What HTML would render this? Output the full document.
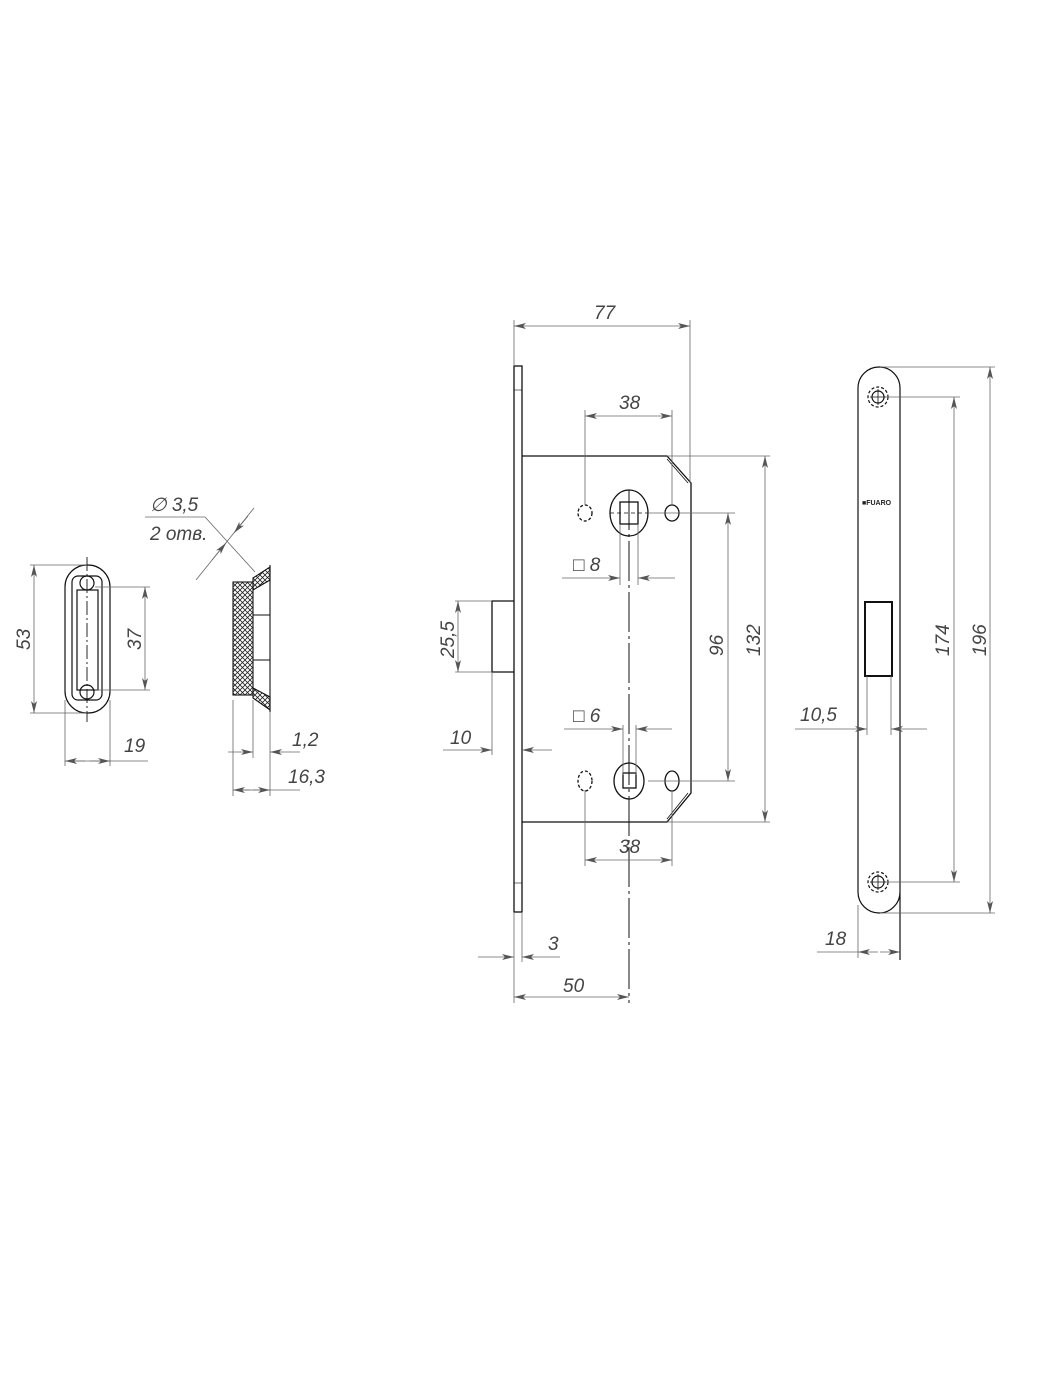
<!DOCTYPE html>
<html><head><meta charset="utf-8"><style>
html,body{margin:0;padding:0;background:#fff}
svg{display:block}
text{font-family:"Liberation Sans",sans-serif;font-style:italic;font-size:19px;fill:#444}
</style></head><body>
<svg width="1050" height="1400" viewBox="0 0 1050 1400" xmlns="http://www.w3.org/2000/svg">
<defs>
<marker id="a" viewBox="0 0 12 6" refX="12" refY="3" markerWidth="12" markerHeight="6" orient="auto-start-reverse" markerUnits="userSpaceOnUse"><path d="M0,0 L12,3 L0,6 L3,3z" fill="#555"/></marker>
<pattern id="h" width="5" height="5" patternUnits="userSpaceOnUse"><path d="M0,0L5,5M5,0L0,5" stroke="#222" stroke-width="0.8"/></pattern>
</defs>
<g fill="none" stroke="#111" stroke-width="1.2">
<!-- LEFT STRIKE -->
<rect x="65" y="565" width="45" height="148" rx="22"/>
<rect x="72" y="576" width="30" height="124" rx="6"/>
<rect x="77" y="590" width="21" height="100"/>
<circle cx="87" cy="583" r="7"/><circle cx="87" cy="692" r="7"/>
<line x1="87" y1="557" x2="87" y2="722" stroke-dasharray="14,3,2,3" stroke-width="0.9"/>
</g>
<g stroke="#666" stroke-width="0.8" fill="none">
<line x1="30" y1="565" x2="87" y2="565"/><line x1="30" y1="713" x2="87" y2="713"/>
<line x1="34" y1="565" x2="34" y2="713" marker-start="url(#a)" marker-end="url(#a)"/>
<line x1="95" y1="587" x2="150" y2="587"/><line x1="95" y1="690" x2="150" y2="690"/>
<line x1="145" y1="587" x2="145" y2="690" marker-start="url(#a)" marker-end="url(#a)"/>
<line x1="65" y1="700" x2="65" y2="766"/><line x1="110" y1="700" x2="110" y2="766"/>
<line x1="65" y1="761" x2="148" y2="761"/>
<line x1="85" y1="761" x2="65" y2="761" marker-end="url(#a)"/><line x1="90" y1="761" x2="110" y2="761" marker-end="url(#a)"/>
</g>
<text x="0" y="0" transform="translate(30,650) rotate(-90)">53</text>
<text x="0" y="0" transform="translate(141,650) rotate(-90)">37</text>
<text x="124" y="752">19</text>
<!-- SIDE SECTION -->
<g stroke="#111" stroke-width="1.1">
<rect x="233" y="582" width="20" height="113" fill="url(#h)"/>
<path d="M253,578 L270,567 L270,580 L253,590Z" fill="url(#h)"/>
<path d="M253,698 L270,710 L270,697 L253,688Z" fill="url(#h)"/>
<line x1="270" y1="565" x2="270" y2="712" fill="none"/>
<line x1="253" y1="615" x2="270" y2="615"/><line x1="253" y1="660" x2="270" y2="660"/>
<line x1="233" y1="582" x2="253" y2="582"/>
</g>
<g stroke="#666" stroke-width="0.8" fill="none">
<line x1="233" y1="700" x2="233" y2="796"/><line x1="253" y1="700" x2="253" y2="758"/><line x1="270" y1="712" x2="270" y2="796"/>
<line x1="228" y1="752" x2="253" y2="752" marker-end="url(#a)"/><line x1="300" y1="752" x2="270" y2="752" marker-end="url(#a)"/>
<line x1="233" y1="790" x2="300" y2="790"/>
<line x1="250" y1="790" x2="233" y2="790" marker-end="url(#a)"/><line x1="253" y1="790" x2="270" y2="790" marker-end="url(#a)"/>
<line x1="145" y1="517" x2="205" y2="517"/><line x1="205" y1="517" x2="255" y2="572"/>
<line x1="196" y1="580" x2="254" y2="508"/>
<line x1="212" y1="560" x2="226" y2="543" marker-end="url(#a)"/>
<line x1="248" y1="516" x2="234" y2="533" marker-end="url(#a)"/>
</g>
<text x="150" y="511">∅ 3,5</text>
<text x="150" y="540">2 отв.</text>
<text x="292" y="746">1,2</text>
<text x="288" y="783">16,3</text>
<!-- MAIN LOCK -->
<g fill="none" stroke="#111" stroke-width="1.3">
<rect x="514" y="366" width="8" height="546"/>
<line x1="514" y1="390" x2="522" y2="390" stroke-width="0.6"/><line x1="514" y1="883" x2="522" y2="883" stroke-width="0.6"/>
<path d="M522,456 L667,456 L691,483 L691,793 L667,822 L522,822"/>
<path d="M667,459 L688,483 M667,819 L688,793" stroke-width="0.8"/>
<path d="M514,601 L492,601 L492,672 L514,672"/>
<ellipse cx="629" cy="513" rx="19" ry="23"/>
<rect x="620" y="502" width="18" height="22"/>
<ellipse cx="629" cy="781" rx="15" ry="18"/>
<rect x="623" y="773" width="13" height="15"/>
<ellipse cx="585" cy="513" rx="7" ry="8" stroke-dasharray="3,2"/>
<ellipse cx="672" cy="513" rx="7" ry="8"/>
<ellipse cx="585" cy="781" rx="7" ry="10" stroke-dasharray="3,2"/>
<ellipse cx="672" cy="781" rx="7" ry="10"/>
<line x1="629" y1="490" x2="629" y2="1003" stroke-dasharray="40,4,3,4" stroke-width="1"/>
<line x1="610" y1="513" x2="648" y2="513" stroke-dasharray="4,3" stroke-width="0.8"/>
</g>
<g stroke="#666" stroke-width="0.8" fill="none">
<line x1="514" y1="320" x2="514" y2="366"/><line x1="690" y1="320" x2="690" y2="483"/>
<line x1="514" y1="326" x2="690" y2="326" marker-start="url(#a)" marker-end="url(#a)"/>
<line x1="585" y1="410" x2="585" y2="505"/><line x1="672" y1="410" x2="672" y2="505"/>
<line x1="585" y1="416" x2="672" y2="416" marker-start="url(#a)" marker-end="url(#a)"/>
<line x1="620" y1="524" x2="620" y2="585"/><line x1="638" y1="524" x2="638" y2="585"/>
<line x1="562" y1="578" x2="620" y2="578" marker-end="url(#a)"/><line x1="675" y1="578" x2="638" y2="578" marker-end="url(#a)"/>
<line x1="623" y1="725" x2="623" y2="775"/><line x1="636" y1="725" x2="636" y2="775"/>
<line x1="564" y1="729" x2="623" y2="729" marker-end="url(#a)"/><line x1="672" y1="729" x2="636" y2="729" marker-end="url(#a)"/>
<line x1="648" y1="513" x2="735" y2="513"/><line x1="648" y1="781" x2="735" y2="781"/>
<line x1="728" y1="513" x2="728" y2="781" marker-start="url(#a)" marker-end="url(#a)"/>
<line x1="667" y1="456" x2="770" y2="456"/><line x1="667" y1="822" x2="770" y2="822"/>
<line x1="765" y1="456" x2="765" y2="822" marker-start="url(#a)" marker-end="url(#a)"/>
<line x1="455" y1="601" x2="492" y2="601"/><line x1="455" y1="672" x2="492" y2="672"/>
<line x1="458" y1="601" x2="458" y2="672" marker-start="url(#a)" marker-end="url(#a)"/>
<line x1="492" y1="672" x2="492" y2="755"/>
<line x1="443" y1="750" x2="492" y2="750" marker-end="url(#a)"/><line x1="552" y1="750" x2="522" y2="750" marker-end="url(#a)"/>
<line x1="585" y1="790" x2="585" y2="866"/><line x1="672" y1="790" x2="672" y2="866"/>
<line x1="585" y1="860" x2="672" y2="860" marker-start="url(#a)" marker-end="url(#a)"/>
<line x1="514" y1="912" x2="514" y2="1003"/><line x1="522" y1="912" x2="522" y2="962"/>
<line x1="478" y1="957" x2="514" y2="957" marker-end="url(#a)"/><line x1="560" y1="957" x2="522" y2="957" marker-end="url(#a)"/>
<line x1="514" y1="997" x2="629" y2="997" marker-start="url(#a)" marker-end="url(#a)"/>
</g>
<text x="594" y="319">77</text>
<text x="619" y="409">38</text>
<text x="573" y="571">□ 8</text>
<text x="573" y="722">□ 6</text>
<text x="619" y="853">38</text>
<text x="0" y="0" transform="translate(723,656) rotate(-90)">96</text>
<text x="0" y="0" transform="translate(760,656) rotate(-90)">132</text>
<text x="0" y="0" transform="translate(454,658) rotate(-90)">25,5</text>
<text x="450" y="744">10</text>
<text x="548" y="950">3</text>
<text x="563" y="992">50</text>
<!-- RIGHT STRIKE PLATE -->
<g fill="none" stroke="#111" stroke-width="1.2">
<path d="M858,388 A21,21 0 0 1 900,388 L900,960 M900,892 A21,21 0 0 1 858,892 L858,388" />
<circle cx="878" cy="397" r="10" stroke-dasharray="3,2"/><circle cx="878" cy="397" r="6"/>
<circle cx="878" cy="882" r="10" stroke-dasharray="3,2"/><circle cx="878" cy="882" r="6"/>
<path d="M870,397H886M878,389V405M870,882H886M878,874V890" stroke-width="0.8"/>
<rect x="865" y="602" width="27" height="74" stroke-width="2"/>
</g>
<text x="862" y="505" style="font-size:7px;font-style:normal;font-weight:bold;fill:#222">■FUARO</text>
<g stroke="#666" stroke-width="0.8" fill="none">
<line x1="867" y1="676" x2="867" y2="735"/><line x1="891" y1="676" x2="891" y2="735"/>
<line x1="795" y1="729" x2="867" y2="729" marker-end="url(#a)"/><line x1="927" y1="729" x2="891" y2="729" marker-end="url(#a)"/>
<line x1="886" y1="397" x2="960" y2="397"/><line x1="886" y1="882" x2="960" y2="882"/>
<line x1="954" y1="397" x2="954" y2="882" marker-start="url(#a)" marker-end="url(#a)"/>
<line x1="880" y1="367" x2="995" y2="367"/><line x1="880" y1="913" x2="995" y2="913"/>
<line x1="990" y1="367" x2="990" y2="913" marker-start="url(#a)" marker-end="url(#a)"/>
<line x1="858" y1="905" x2="858" y2="958"/>
<line x1="817" y1="952" x2="858" y2="952"/>
<line x1="878" y1="952" x2="858" y2="952" marker-end="url(#a)"/><line x1="880" y1="952" x2="900" y2="952" marker-end="url(#a)"/>
</g>
<text x="800" y="721">10,5</text>
<text x="0" y="0" transform="translate(949,656) rotate(-90)">174</text>
<text x="0" y="0" transform="translate(986,656) rotate(-90)">196</text>
<text x="825" y="945">18</text>
</svg>
</body></html>
